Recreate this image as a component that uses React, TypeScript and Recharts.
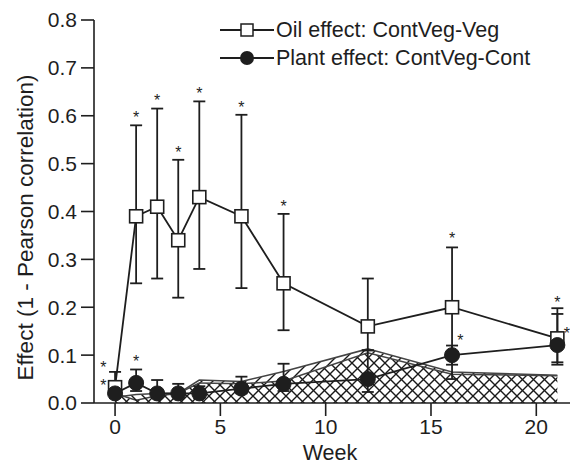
import {
  ComposedChart,
  Line,
  Area,
  Scatter,
  XAxis,
  YAxis,
  ErrorBar,
} from "recharts";

const weeks = [0, 1, 2, 3, 4, 6, 8, 12, 16, 21];

// Oil effect: ContVeg-Veg (open squares)
const oil = [0.033, 0.39, 0.41, 0.34, 0.43, 0.39, 0.25, 0.16, 0.2, 0.135];
const oilLow = [0.022, 0.25, 0.26, 0.22, 0.28, 0.24, 0.152, 0.11, 0.05, 0.08];
const oilHigh = [0.042, 0.58, 0.615, 0.508, 0.63, 0.602, 0.395, 0.26, 0.325, 0.198];

// Plant effect: ContVeg-Cont (filled circles)
const plant = [0.02, 0.042, 0.02, 0.02, 0.02, 0.03, 0.04, 0.05, 0.1, 0.121];
const plantLow = [0.01, 0.025, 0.012, 0.012, 0.01, 0.02, 0.025, 0.023, 0.08, 0.085];
const plantHigh = [0.065, 0.07, 0.048, 0.04, 0.035, 0.055, 0.082, 0.11, 0.12, 0.186];

// hatched null-distribution bands
const bandUpper = [0.02, 0.006, 0.015, 0.02, 0.048, 0.045, 0.066, 0.113, 0.065, 0.058];
const bandLower = [0.012, 0.018, 0.02, 0.02, 0.042, 0.04, 0.046, 0.105, 0.06, 0.057];

// significance asterisks
const starWeeks = [-0.55, -0.55, 1, 1, 2, 3, 4, 6, 8, 16, 16.4, 21, 21.45];
const starValues = [0.078, 0.04, 0.09, 0.6, 0.635, 0.528, 0.65, 0.622, 0.415, 0.347, 0.134, 0.215, 0.149];

const xTicks = [0, 5, 10, 15, 20];
const yTicks = [0, 0.1, 0.2, 0.3, 0.4, 0.5, 0.6, 0.7, 0.8];
const minorTicks: number[] = [];
for (let i = 0; i <= 80; i++) minorTicks.push(i / 100);

const data = weeks.map((w, i) => ({
  week: w,
  oil: oil[i],
  oilErr: [oil[i] - oilLow[i], oilHigh[i] - oil[i]],
  plant: plant[i],
  plantErr: [plant[i] - plantLow[i], plantHigh[i] - plant[i]],
  bandUpper: bandUpper[i],
  bandLower: bandLower[i],
}));

const stars = starWeeks.map((w, i) => ({ week: w, star: starValues[i] }));

const FONT = "'Liberation Sans', Arial, Helvetica, sans-serif";
const INK = "#1e1e1e";

const Square = (props: any) => {
  const { cx, cy } = props;
  if (cx == null || cy == null) return null;
  return <rect x={cx - 6.5} y={cy - 6.5} width={13} height={13} fill="#fff" stroke={INK} strokeWidth={1.6} />;
};

const Dot = (props: any) => {
  const { cx, cy } = props;
  if (cx == null || cy == null) return null;
  return <circle cx={cx} cy={cy} r={7.5} fill={INK} stroke={INK} />;
};

const Star = (props: any) => {
  const { cx, cy } = props;
  return (
    <text x={cx} y={cy + 7.5} textAnchor="middle" fontSize={16} fontFamily={FONT} fill={INK}>
      *
    </text>
  );
};

const legendItems = [
  { label: "Oil effect: ContVeg-Veg", kind: "square" },
  { label: "Plant effect: ContVeg-Cont", kind: "circle" },
];

const YLabel = (props: any) => {
  const { viewBox } = props;
  const x = 25;
  const y = viewBox.y + viewBox.height / 2 + 16;
  return (
    <text x={x} y={y} transform={`rotate(-90 ${x} ${y})`} textAnchor="middle" dominantBaseline="central" fontSize={22.5} fontFamily={FONT} fill={INK}>
      Effect (1 - Pearson correlation)
    </text>
  );
};

const XLabel = (props: any) => {
  const { viewBox } = props;
  const x = viewBox.x + viewBox.width / 2 - 2;
  return (
    <text x={x} y={453} textAnchor="middle" dominantBaseline="central" fontSize={21.5} fontFamily={FONT} fill={INK}>
      Week
    </text>
  );
};

export default function App() {
  return (
    <div style={{ position: "absolute", left: 0, top: 0, width: 571, height: 466, background: "#fff" }}>
      <ComposedChart width={571} height={466} data={data} margin={{ top: 20, right: 1, bottom: 0, left: 0 }}>
        <defs>
          <pattern id="hatchSlash" patternUnits="userSpaceOnUse" width={11} height={11}>
            <path d="M0,11 L11,0 M-3,3 L3,-3 M8,14 L14,8" stroke="#1a1a1a" strokeWidth={1.4} />
          </pattern>
          <pattern id="hatchBack" patternUnits="userSpaceOnUse" width={11} height={11}>
            <path d="M0,0 L11,11 M-3,8 L3,14 M8,-3 L14,3" stroke="#1a1a1a" strokeWidth={1.4} />
          </pattern>
        </defs>
        <XAxis
          dataKey="week"
          type="number"
          domain={[-1, 21.6]}
          ticks={xTicks}
          allowDataOverflow
          height={63}
          tickSize={13}
          tickMargin={3}
          stroke={INK}
          strokeWidth={1.6}
          tick={{ fill: INK, fontSize: 21, fontFamily: FONT }}
          label={<XLabel />}
        />
        <YAxis
          domain={[0, 0.8]}
          ticks={yTicks}
          width={94}
          tickSize={13}
          tickMargin={4}
          stroke={INK}
          strokeWidth={1.6}
          tickFormatter={(v: number) => v.toFixed(1)}
          tick={{ fill: INK, fontSize: 21, fontFamily: FONT }}
          label={<YLabel />}
        />
        <YAxis
          yAxisId="minor"
          mirror
          domain={[0, 0.8]}
          ticks={minorTicks}
          tick={false}
          tickSize={3}
          axisLine={false}
          tickLine={{ stroke: INK, strokeWidth: 1 }}
        />
        <Area
          dataKey="bandUpper"
          type="linear"
          stroke="#444"
          strokeWidth={1.5}
          fill="url(#hatchSlash)"
          fillOpacity={1}
          dot={false}
          activeDot={false}
          isAnimationActive={false}
        />
        <Area
          dataKey="bandLower"
          type="linear"
          stroke="#444"
          strokeWidth={1.5}
          fill="url(#hatchBack)"
          fillOpacity={1}
          dot={false}
          activeDot={false}
          isAnimationActive={false}
        />
        <Line dataKey="oil" type="linear" stroke={INK} strokeWidth={1.8} dot={<Square />} activeDot={false} isAnimationActive={false}>
          <ErrorBar dataKey="oilErr" width={6} stroke={INK} strokeWidth={1.8} />
        </Line>
        <Line dataKey="plant" type="linear" stroke={INK} strokeWidth={1.8} dot={<Dot />} activeDot={false} isAnimationActive={false}>
          <ErrorBar dataKey="plantErr" width={6} stroke={INK} strokeWidth={1.8} />
        </Line>
        <Scatter data={stars} dataKey="star" shape={<Star />} isAnimationActive={false} legendType="none" />
      </ComposedChart>
      <div style={{ position: "absolute", top: 16, left: 220, fontFamily: FONT, fontSize: 21.5, color: INK, lineHeight: "28px" }}>
        {legendItems.map((it) => (
          <div key={it.label} style={{ display: "flex", alignItems: "center", height: 28 }}>
            <svg width={54} height={20} style={{ marginRight: 2 }}>
              <line x1={0} x2={54} y1={10} y2={10} stroke={INK} strokeWidth={2} />
              {it.kind === "square" ? (
                <rect x={21} y={4} width={12} height={12} fill="#fff" stroke={INK} strokeWidth={1.5} />
              ) : (
                <circle cx={27} cy={10} r={7} fill={INK} />
              )}
            </svg>
            <span>{it.label}</span>
          </div>
        ))}
      </div>
    </div>
  );
}
